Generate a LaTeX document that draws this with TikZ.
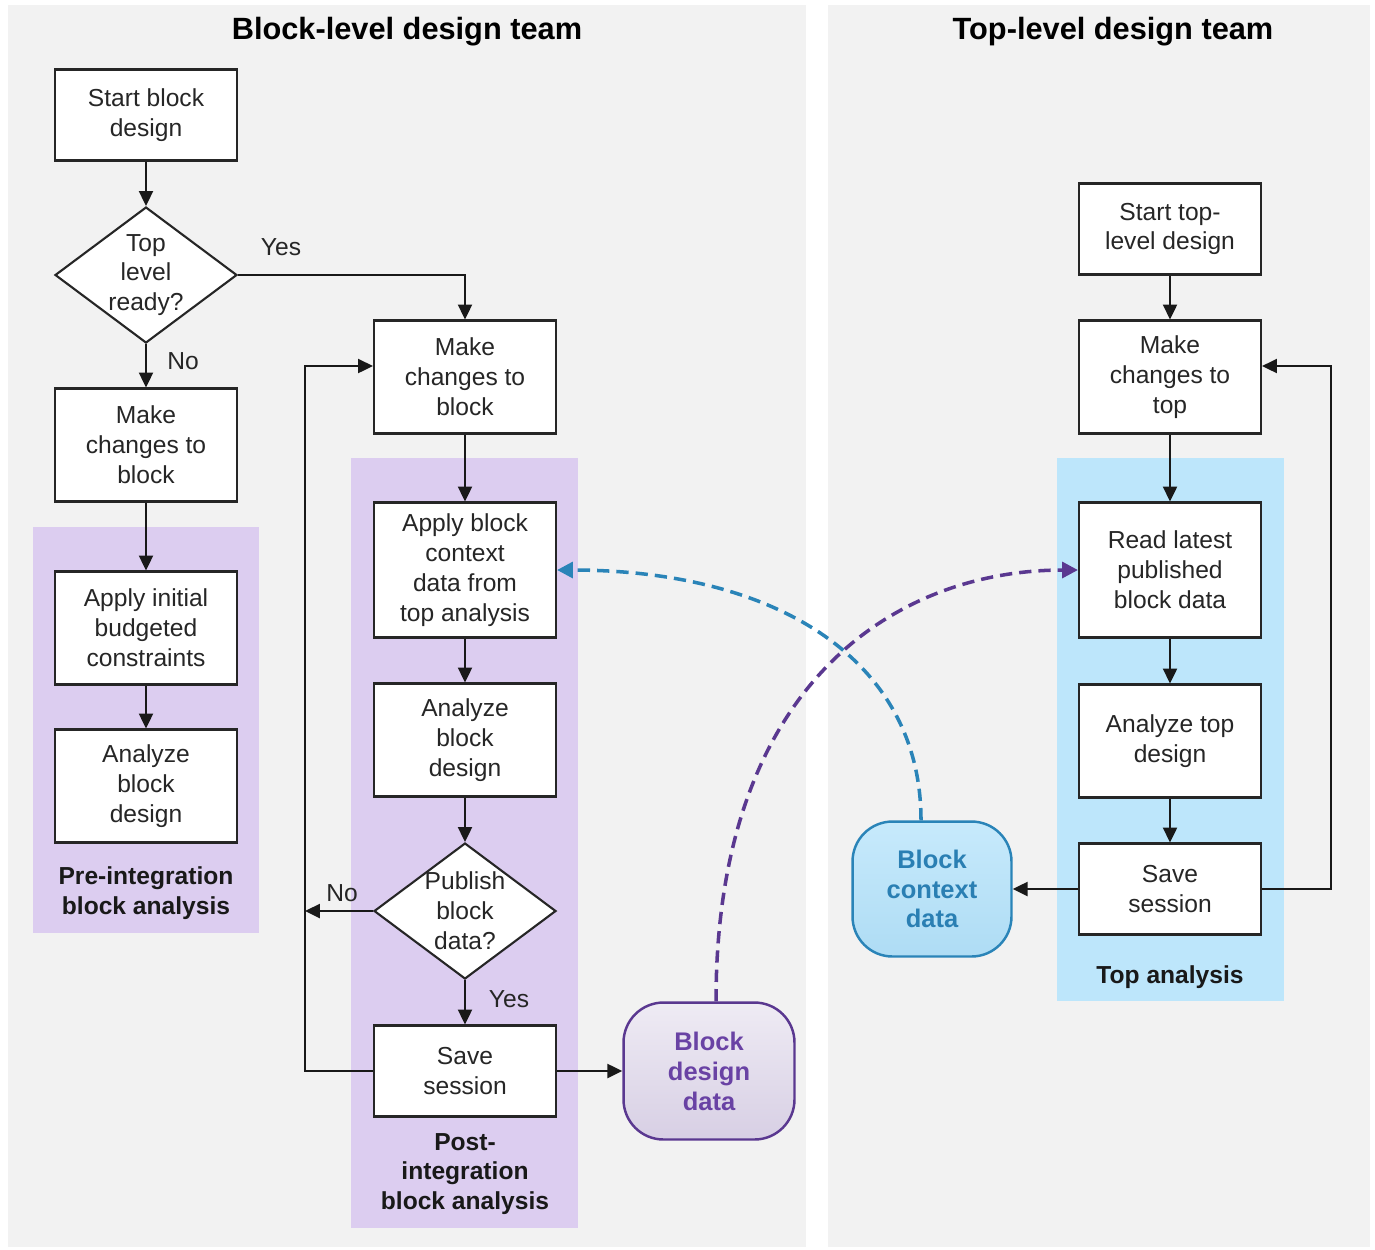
\documentclass[tikz,border=0pt]{standalone}
\usepackage{fontspec}
\setmainfont{Liberation Sans}
\usetikzlibrary{arrows.meta,shapes.geometric}
\definecolor{panelgray}{HTML}{F2F2F2}
\definecolor{lilac}{HTML}{DCCDF0}
\definecolor{sky}{HTML}{BDE6FB}
\definecolor{plum}{HTML}{5A3890}
\definecolor{plumtext}{HTML}{6942A4}
\definecolor{ocean}{HTML}{2A84B8}
\definecolor{oceantext}{HTML}{2A7FB3}
\begin{document}
\begin{tikzpicture}[x=0.02cm,y=-0.02cm,
  stepbox/.style={draw=black!85, line width=1.2pt, fill=white, minimum width=3.64cm,
    inner sep=2pt, align=center, font=\fontsize{14}{17}\selectfont, text=black!85},
  h91/.style={minimum height=1.82cm},
  h113/.style={minimum height=2.26cm},
  h135/.style={minimum height=2.7cm},
  decision/.style={diamond, draw=black!85, line width=1.2pt, fill=white, inner sep=0pt,
    minimum width=3.64cm, minimum height=2.72cm},
  dtext/.style={align=center, font=\fontsize{14}{17}\selectfont, text=black!85},
  arr/.style={-{Triangle[length=8.5pt,width=8pt]}, line width=1.2pt, draw=black!90},
  lbl/.style={font=\fontsize{14}{17}\selectfont, text=black!85},
  title/.style={font=\bfseries\fontsize{17.5}{20}\selectfont},
  grouplbl/.style={align=center, font=\bfseries\fontsize{14}{17}\selectfont, text=black!90},
  datanode/.style={rounded corners=0.8cm, line width=1.4pt, align=center,
    font=\bfseries\fontsize{14.5}{17}\selectfont},
  flow/.style={dashed, dash pattern=on 7pt off 4pt, line width=2pt}
]
\useasboundingbox (0,0) rectangle (1375,1249);
\fill[white] (0,0) rectangle (1375,1249);

% team panels
\fill[panelgray] (8,5) rectangle (806,1247);
\fill[panelgray] (828,5) rectangle (1370,1247);

% analysis regions
\fill[lilac] (33,527) rectangle (259,933);
\fill[lilac] (351,458) rectangle (578,1228);
\fill[sky] (1057,458) rectangle (1284,1001);

% titles
\node[title] (tblock) at (407,32) {Block-level design team};
\node[title] (ttop) at (1113,32) {Top-level design team};

% block team, pre-integration path
\node[stepbox,h91] (s1) at (146,115) {Start block\\design};
\node[decision] (d1) at (146,275) {};
\node[dtext] (d1t) at (146,275) {Top\\level\\ready?};
\node[stepbox,h113] (mc1) at (146,445) {Make\\changes to\\block};
\node[stepbox,h113] (ai) at (146,628) {Apply initial\\budgeted\\constraints};
\node[stepbox,h113] (ab1) at (146,786) {Analyze\\block\\design};
\node[grouplbl] (g1) at (146,893) {Pre-integration\\block analysis};

% block team, post-integration path
\node[stepbox,h113] (mc2) at (465,377) {Make\\changes to\\block};
\node[stepbox,h135] (ap) at (465,570) {Apply block\\context\\data from\\top analysis};
\node[stepbox,h113] (ab2) at (465,740) {Analyze\\block\\design};
\node[decision] (d2) at (465,911) {};
\node[dtext] (d2t) at (465,911) {Publish\\block\\data?};
\node[stepbox,h91] (ss1) at (465,1071) {Save\\session};
\node[grouplbl] (g2) at (465,1174) {Post-\\integration\\block analysis};

\node[datanode, draw=plum, text=plumtext, top color=plum!10, bottom color=plum!24,
  minimum width=3.42cm, minimum height=2.74cm] (bd) at (709,1071) {Block\\design\\data};

% top team
\node[stepbox,h91] (st) at (1170,229) {Start top-\\level design};
\node[stepbox,h113] (mct) at (1170,377) {Make\\changes to\\top};
\node[stepbox,h135] (rl) at (1170,570) {Read latest\\published\\block data};
\node[stepbox,h113] (at) at (1170,741) {Analyze top\\design};
\node[stepbox,h91] (ss2) at (1170,889) {Save\\session};
\node[grouplbl] (g3) at (1170,977) {Top analysis};

\node[datanode, draw=ocean, text=oceantext, top color=sky!85, bottom color=sky!90!ocean,
  minimum width=3.18cm, minimum height=2.7cm] (bc) at (932,889) {Block\\context\\data};

% connectors, block team
\coordinate (noend) at (305,911);
\coordinate (loopl) at (305,1071);
\draw[arr] (s1) -- (d1);
\draw[arr] (d1.east) -| (mc2.north);
\node[lbl] (yes1) at (281,247) {Yes};
\draw[arr] (d1) -- (mc1);
\node[lbl] (no1) at (183,361) {No};
\draw[arr] (mc1) -- (ai);
\draw[arr] (ai) -- (ab1);
\draw[arr] (mc2) -- (ap);
\draw[arr] (ap) -- (ab2);
\draw[arr] (ab2) -- (d2);
\draw[arr] (d2) -- (ss1);
\node[lbl] (yes2) at (509,999) {Yes};
\draw[arr] (d2.west) -- (noend);
\node[lbl] (no2) at (342,893) {No};
\draw[arr] (ss1.west) -- (loopl) |- ([yshift=0.22cm]mc2.west);
\draw[arr] (ss1) -- (bd);

% connectors, top team
\coordinate (loopr) at (1331,889);
\draw[arr] (st) -- (mct);
\draw[arr] (mct) -- (rl);
\draw[arr] (rl) -- (at);
\draw[arr] (at) -- (ss2);
\draw[arr] (ss2) -- (bc);
\draw[arr] (ss2.east) -- (loopr) |- ([yshift=0.22cm]mct.east);

% published data exchange
\draw[flow, draw=plum, -{Triangle[length=9pt,width=9pt]}]
  ([xshift=0.14cm]bd.north) .. controls +(0,-320) and +(-180,0) .. (rl.west);
\draw[flow, draw=ocean, -{Triangle[length=9pt,width=9pt]}]
  ([xshift=-0.22cm]bc.north) .. controls +(0,-160) and +(220,0) .. (ap.east);
\end{tikzpicture}
\end{document}
